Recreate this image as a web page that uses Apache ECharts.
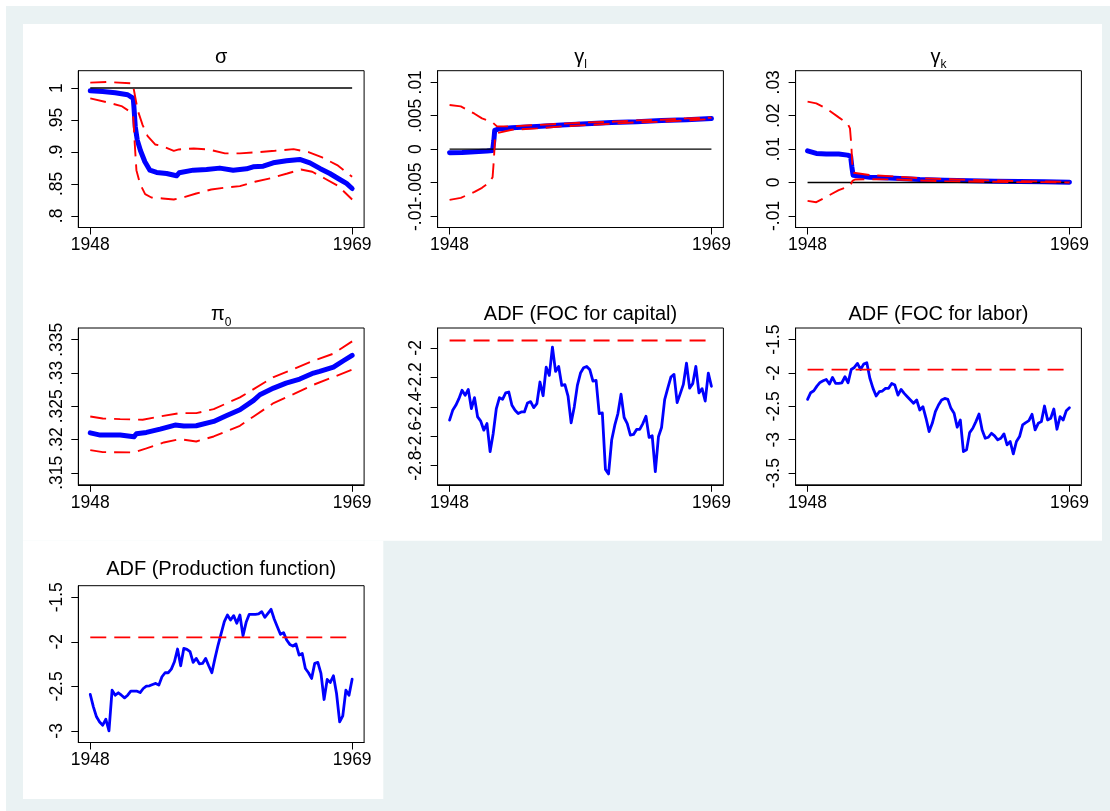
<!DOCTYPE html>
<html><head><meta charset="utf-8">
<script src="https://cdn.jsdelivr.net/npm/echarts@6/dist/echarts.min.js"></script>
<style>html,body{margin:0;padding:0;background:#fff}#c{width:1110px;height:811px}</style>
</head><body><div id="c"></div>
<script>
// ---------- DATA ----------
var xTicks = [1948, 1969];
var xLabels = ['1948', '1969'];

// sigma
var sigEstYears = [1948.0,1949.0,1950.0,1951.0,1951.45,1951.5,1951.61,1951.77,1952.03,1952.38,1952.78,1953.32,1954.12,1954.92,1955.13,1956.26,1957.32,1958.39,1959.46,1960.53,1961.06,1961.87,1962.67,1963.74,1964.80,1965.61,1966.41,1967.21,1968.01,1968.55,1969.0];
var sigEst = [.9958,.9945,.9925,.9895,.9838,.9708,.9394,.9185,.9018,.8846,.8715,.8679,.8663,.8627,.8674,.8715,.8726,.8747,.8715,.8736,.8768,.8778,.8830,.8862,.8883,.8830,.8742,.8663,.8569,.8507,.8428];
var sigUpYears = [1948.0,1949.3,1951.4,1951.5,1951.8,1952.2,1952.6,1953.2,1953.8,1954.7,1955.1,1956.3,1957.5,1958.8,1960.0,1961.5,1962.8,1964.3,1965.5,1966.6,1967.8,1969.0];
var sigUp = [1.0084,1.0094,1.0073,.9969,.9655,.942,.9248,.9117,.9091,.9018,.9039,.9055,.9039,.8977,.8977,.8997,.9018,.9044,.8997,.8914,.8794,.8611];
var sigLoYears = [1948.0,1949.5,1950.5,1951.2,1951.45,1951.55,1951.7,1952.0,1952.4,1952.9,1953.8,1954.7,1955.6,1956.5,1957.7,1958.9,1960.0,1961.2,1962.5,1963.8,1964.9,1965.8,1966.8,1967.9,1969.0];
var sigLo = [.9838,.977,.9718,.9629,.954,.9185,.8715,.8496,.8339,.8287,.8272,.8256,.8298,.835,.8413,.8444,.8465,.8533,.859,.8663,.8726,.869,.8585,.8465,.8256];
var sigRef = 1;

// gamma_l
var glEstYears = [1948.0,1949.0,1950.0,1951.0,1951.45,1951.55,1951.62,1951.9,1953,1955,1957,1959,1961,1963,1965,1967,1969];
var glEst = [-.00055,-.0005,-.0004,-.0003,-.0002,.0013,.0028,.003,.0032,.0034,.0036,.0038,.004,.0041,.0043,.0044,.0046];
var glUpYears = [1948.0,1948.9,1950.0,1950.6,1951.2,1951.5,1951.8,1953,1955,1957,1959,1961,1963,1965,1967,1969];
var glUp = [.0066,.0064,.0053,.0046,.0042,.0039,.0034,.0034,.0036,.0038,.0040,.0041,.0043,.0044,.0046,.0047];
var glLoYears = [1948.0,1948.9,1950.0,1950.6,1951.2,1951.45,1951.55,1951.65,1951.8,1953,1955,1957,1959,1961,1963,1965,1967,1969];
var glLo = [-.0076,-.0073,-.0064,-.0058,-.005,-.0042,-.0017,.0018,.0024,.0029,.0031,.0034,.0036,.0038,.0040,.0041,.0043,.0045];
var glRef = 0;

// gamma_k
var gkEstYears = [1948.0,1948.7,1949.5,1950.5,1951.2,1951.45,1951.55,1951.65,1951.8,1953,1955,1957,1959,1961,1963,1965,1967,1969];
var gkEst = [.0095,.0087,.0085,.0085,.0082,.0079,.0047,.0022,.0018,.0016,.0013,.0009,.0007,.0005,.0004,.0003,.0002,.0001];
var gkUpYears = [1948.0,1948.7,1949.5,1950.5,1951.2,1951.4,1951.5,1951.6,1951.7,1953,1955,1957,1959,1961,1963,1965,1967,1969];
var gkUp = [.0242,.0237,.0222,.0195,.0177,.0162,.0117,.0047,.0029,.0022,.0018,.0013,.001,.0008,.0006,.0004,.0003,.0002];
var gkLoYears = [1948.0,1948.7,1949.5,1950.5,1951.2,1951.45,1951.6,1951.8,1953,1955,1957,1959,1961,1963,1965,1967,1969];
var gkLo = [-.0055,-.0059,-.0043,-.0023,-.0013,-.0007,.0005,.0009,.0010,.0009,.0006,.0004,.0003,.0002,.0001,.0001,0];
var gkRef = 0;

// pi_0
var piEstYears = [1948.0,1948.8,1950.4,1951.5,1951.7,1952.5,1953.6,1954.8,1955.5,1956.5,1957.9,1958.9,1960.0,1961.1,1961.6,1962.7,1963.7,1964.8,1965.9,1966.4,1967.5,1968.3,1969.0];
var piEst = [.3210,.32067,.32067,.32041,.32087,.32107,.32157,.32217,.32202,.32207,.32272,.32357,.32447,.32588,.32673,.32773,.32848,.32909,.32999,.33024,.33089,.33184,.33264];
var piUpYears = [1948.0,1949.0,1950.4,1952.2,1953.6,1955.2,1956.5,1957.9,1960.0,1961.1,1962.7,1964.3,1965.9,1967.5,1969.0];
var piUp = [.32347,.32317,.32307,.32297,.32347,.32397,.32397,.32457,.32633,.32758,.32939,.33059,.33184,.3329,.33475];
var piLoYears = [1948.0,1949.0,1951.5,1952.5,1953.9,1955.2,1956.5,1957.9,1960.0,1961.1,1962.7,1964.3,1965.9,1967.5,1969.0];
var piLo = [.31841,.31811,.31806,.31866,.31956,.32006,.31971,.32046,.32207,.32347,.32548,.32683,.32823,.32939,.33049];

// ADF series (quarterly 1948q1..1969q1)
var adfCapital = [-2.491,-2.424,-2.390,-2.345,-2.288,-2.322,-2.282,-2.412,-2.338,-2.469,-2.498,-2.559,-2.514,-2.705,-2.581,-2.412,-2.338,-2.349,-2.306,-2.300,-2.390,-2.424,-2.446,-2.435,-2.435,-2.374,-2.365,-2.406,-2.379,-2.232,-2.325,-2.131,-2.187,-1.995,-2.160,-2.126,-2.255,-2.250,-2.327,-2.509,-2.401,-2.255,-2.171,-2.135,-2.126,-2.149,-2.225,-2.221,-2.446,-2.442,-2.825,-2.856,-2.626,-2.525,-2.446,-2.315,-2.473,-2.514,-2.593,-2.588,-2.554,-2.554,-2.514,-2.464,-2.608,-2.597,-2.841,-2.604,-2.541,-2.352,-2.273,-2.198,-2.180,-2.372,-2.311,-2.248,-2.104,-2.273,-2.243,-2.126,-2.306,-2.277,-2.361,-2.171,-2.261];
var adfLabor = [-2.396,-2.296,-2.266,-2.197,-2.142,-2.117,-2.097,-2.167,-2.067,-2.157,-2.157,-2.147,-2.057,-2.147,-1.948,-1.918,-1.858,-1.948,-1.868,-1.848,-2.082,-2.231,-2.346,-2.281,-2.271,-2.231,-2.231,-2.157,-2.182,-2.331,-2.246,-2.306,-2.356,-2.405,-2.455,-2.405,-2.555,-2.505,-2.679,-2.878,-2.754,-2.580,-2.480,-2.405,-2.381,-2.396,-2.530,-2.604,-2.813,-2.704,-3.177,-3.152,-2.893,-2.828,-2.729,-2.614,-2.853,-2.978,-2.963,-2.903,-2.943,-3.002,-2.978,-2.913,-3.077,-3.027,-3.211,-3.027,-2.953,-2.779,-2.744,-2.714,-2.619,-2.853,-2.754,-2.729,-2.495,-2.704,-2.679,-2.540,-2.843,-2.654,-2.704,-2.565,-2.520];
var adfProduction = [-2.591,-2.730,-2.842,-2.899,-2.936,-2.869,-3.000,-2.542,-2.599,-2.572,-2.599,-2.629,-2.599,-2.554,-2.554,-2.554,-2.569,-2.524,-2.497,-2.494,-2.479,-2.467,-2.486,-2.392,-2.347,-2.347,-2.306,-2.224,-2.081,-2.269,-2.074,-2.085,-2.111,-2.231,-2.186,-2.246,-2.242,-2.186,-2.269,-2.347,-2.186,-2.036,-1.905,-1.774,-1.699,-1.755,-1.706,-1.792,-1.699,-1.931,-1.781,-1.691,-1.691,-1.691,-1.687,-1.661,-1.725,-1.680,-1.635,-1.744,-1.830,-1.916,-1.897,-1.980,-2.029,-2.047,-2.025,-2.149,-2.130,-2.299,-2.347,-2.411,-2.242,-2.231,-2.355,-2.647,-2.422,-2.456,-2.381,-2.580,-2.899,-2.831,-2.542,-2.599,-2.419];
var adfCritical = -1.95;

// y tick values and labels
var yT1 = [.8,.85,.9,.95,1],          yL1 = ['.8','.85','.9','.95','1'];
var yT2 = [-.01,-.005,0,.005,.01],    yL2 = ['-.01','-.005','0','.005','.01'];
var yT3 = [-.01,0,.01,.02,.03],       yL3 = ['-.01','0','.01','.02','.03'];
var yT4 = [.315,.32,.325,.33,.335],   yL4 = ['.315','.32','.325','.33','.335'];
var yT5 = [-2.8,-2.6,-2.4,-2.2,-2],   yL5 = ['-2.8','-2.6','-2.4','-2.2','-2'];
var yT6 = [-3.5,-3,-2.5,-2,-1.5],     yL6 = ['-3.5','-3','-2.5','-2','-1.5'];
var yT7 = [-3,-2.5,-2,-1.5],          yL7 = ['-3','-2.5','-2','-1.5'];

// ---------- BUILD ----------
var quarters = [];
for (var q = 0; q < adfCapital.length; q++) quarters.push(1948 + q / 4);

function zip(xs, ys) { return xs.map(function (x, i) { return [x, ys[i]]; }); }

var FONT = '"Liberation Sans", Arial, Helvetica, sans-serif';
var BLUE = '#0000ff', RED = '#ff0000';
var X0 = 1947.04, X1 = 1969.96;

var cols = [78.3, 437.6, 795.6];
var rows = [70.7, 328.0, 585.7];
var GW = 285.8, GH = 156.8;

var panels = [
  {c:0, r:0, title:'{a|σ}', ymin:.7818, ymax:1.0271, yt:yT1, yl:yL1, thick:5,
   est:zip(sigEstYears,sigEst), up:zip(sigUpYears,sigUp), lo:zip(sigLoYears,sigLo), ref:sigRef},
  {c:1, r:0, title:'{a|γ}{b|l}', ymin:-.01174, ymax:.01174, yt:yT2, yl:yL2, thick:5,
   est:zip(glEstYears,glEst), up:zip(glUpYears,glUp), lo:zip(glLoYears,glLo), ref:glRef},
  {c:2, r:0, title:'{a|γ}{b|k}', ymin:-.01348, ymax:.03348, yt:yT3, yl:yL3, thick:5,
   est:zip(gkEstYears,gkEst), up:zip(gkUpYears,gkUp), lo:zip(gkLoYears,gkLo), ref:gkRef},
  {c:0, r:1, title:'{a|π}{b|0}', ymin:.3132, ymax:.33676, yt:yT4, yl:yL4, thick:5,
   est:zip(piEstYears,piEst), up:zip(piUpYears,piUp), lo:zip(piLoYears,piLo)},
  {c:1, r:1, title:'{t|ADF (FOC for capital)}', ymin:-2.93, ymax:-1.865, yt:yT5, yl:yL5, thick:2.8,
   est:zip(quarters,adfCapital), crit:adfCritical},
  {c:2, r:1, title:'{t|ADF (FOC for labor)}', ymin:-3.675, ymax:-1.327, yt:yT6, yl:yL6, thick:2.8,
   est:zip(quarters,adfLabor), crit:adfCritical},
  {c:0, r:2, title:'{t|ADF (Production function)}', ymin:-3.13, ymax:-1.37, yt:yT7, yl:yL7, thick:2.8,
   est:zip(quarters,adfProduction), crit:adfCritical}
];
var titleMid = [57.5, 314.8, 569.5];

var grids = [], xAxes = [], yAxes = [], series = [];
var graphics = [
  {type:'rect', shape:{x:6, y:6, width:1104, height:805}, style:{fill:'#eaf2f3'}, z:-100},
  {type:'rect', shape:{x:23, y:24, width:1079, height:516.7}, style:{fill:'#ffffff'}, z:-99},
  {type:'rect', shape:{x:23, y:540.7, width:360.3, height:258.3}, style:{fill:'#ffffff'}, z:-99}
];

function lab(ticks, labels) {
  return function (v) {
    for (var i = 0; i < ticks.length; i++) if (Math.abs(ticks[i] - v) < 1e-9) return labels[i];
    return '';
  };
}
function pick(arr, parity) { return arr.filter(function (v, k) { return k % 2 === parity; }); }

panels.forEach(function (p, i) {
  var left = cols[p.c], top = rows[p.r];
  grids.push({left:left, top:top, width:GW, height:GH, show:true, borderColor:'#000', borderWidth:1,
              backgroundColor:'#fff', containLabel:false, outerBoundsMode:'none'});
  xAxes.push({gridIndex:i, type:'value', min:X0, max:X1,
    axisLine:{show:true, onZero:false, lineStyle:{color:'#000', width:1}},
    axisTick:{show:true, length:7, customValues:xTicks, lineStyle:{color:'#000', width:1}},
    axisLabel:{show:true, customValues:xTicks, formatter:lab(xTicks, xLabels), margin:9,
               showMinLabel:true, showMaxLabel:true,
               fontSize:17.5, fontFamily:FONT, color:'#000', hideOverlap:false},
    splitLine:{show:false}});
  var mainY = yAxes.length;
  // two overlaid y axes: each carries every other label so none are dropped as overlapping
  [0, 1].forEach(function (parity) {
    yAxes.push({gridIndex:i, type:'value', min:p.ymin, max:p.ymax, position:'left', offset:0,
      axisLine:{show:parity === 0, onZero:false, lineStyle:{color:'#000', width:1}},
      axisTick:{show:parity === 0, length:7, customValues:p.yt, lineStyle:{color:'#000', width:1}},
      axisLabel:{show:true, customValues:pick(p.yt, parity), formatter:lab(p.yt, p.yl), rotate:90, margin:12,
                 showMinLabel:true, showMaxLabel:true,
                 fontSize:17.5, fontFamily:FONT, color:'#000', hideOverlap:false},
      splitLine:{show:false}});
  });

  series.push({type:'line', xAxisIndex:i, yAxisIndex:mainY, data:p.est, symbol:'none', z:2,
    lineStyle:{color:BLUE, width:p.thick, cap:'round', join:'round'}, silent:true, animation:false});
  if (p.ref !== undefined) {
    series.push({type:'line', xAxisIndex:i, yAxisIndex:mainY, data:[[1948, p.ref],[1969, p.ref]], symbol:'none', z:3,
      lineStyle:{color:'#000', width:1.3}, silent:true, animation:false});
  }
  if (p.up) {
    [p.up, p.lo].forEach(function (d) {
      series.push({type:'line', xAxisIndex:i, yAxisIndex:mainY, data:d, symbol:'none', z:4,
        lineStyle:{color:RED, width:1.9, type:[16, 8]}, silent:true, animation:false});
    });
  }
  if (p.crit !== undefined) {
    series.push({type:'line', xAxisIndex:i, yAxisIndex:mainY, data:[[1948, p.crit],[1969, p.crit]], symbol:'none', z:4,
      lineStyle:{color:RED, width:1.8, type:[16, 8]}, silent:true, animation:false});
  }
  graphics.push({type:'text', x:left + GW / 2, y:titleMid[p.r], z:10,
    style:{text:p.title, textAlign:'center', textVerticalAlign:'middle', fill:'#000',
      rich:{
        t:{fontSize:20, fontFamily:FONT, fill:'#000'},
        a:{fontSize:20, fontFamily:FONT, fill:'#000'},
        b:{fontSize:12, fontFamily:FONT, fill:'#000', verticalAlign:'bottom', lineHeight:27}
      }}});
});

var chart = echarts.init(document.getElementById('c'), null, {renderer:'canvas'});
chart.setOption({
  backgroundColor:'#ffffff',
  animation:false,
  grid:grids, xAxis:xAxes, yAxis:yAxes, series:series,
  graphic:{elements:graphics}
});
</script></body></html>
